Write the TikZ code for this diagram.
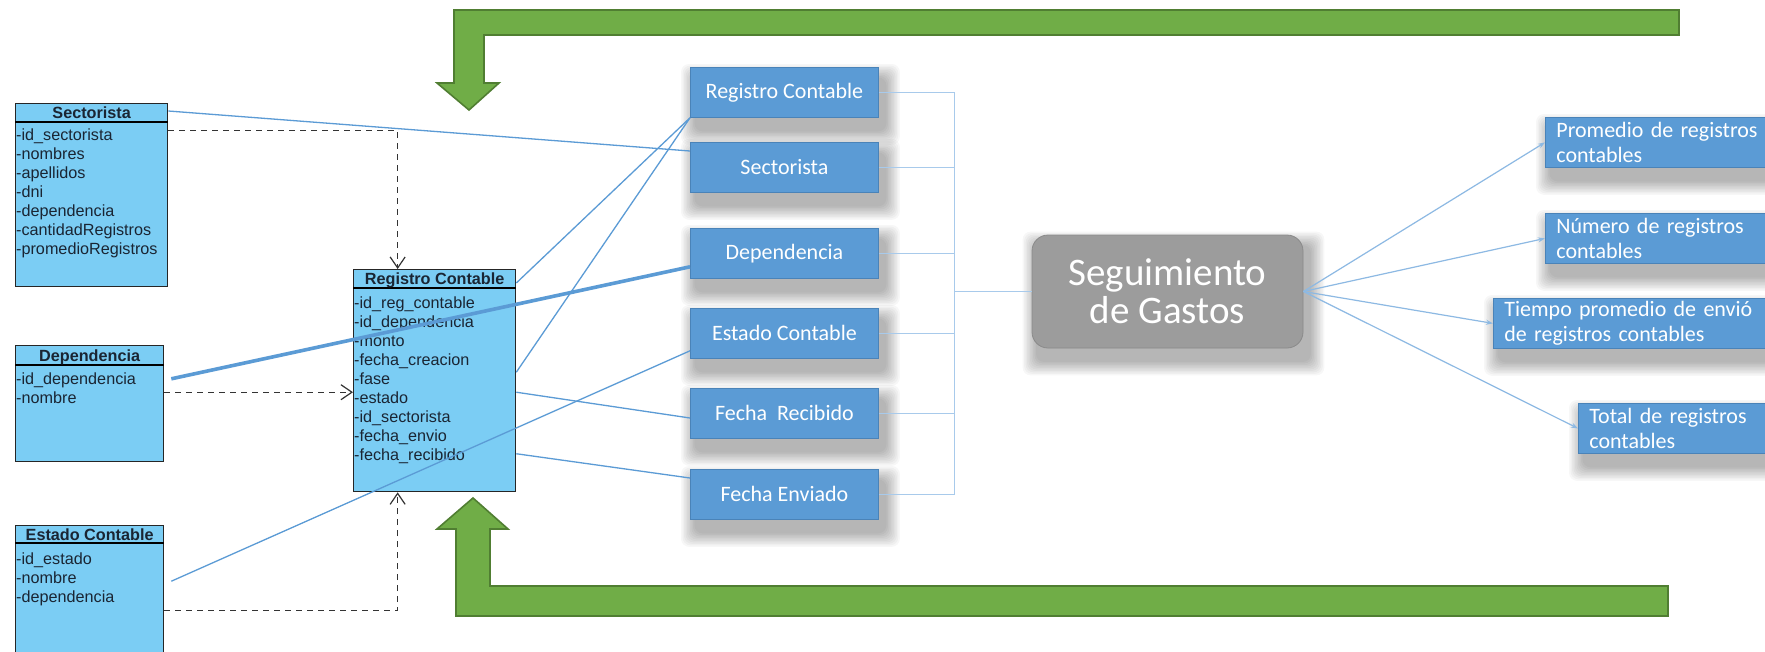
\documentclass[tikz,border=0pt]{standalone}
\usepackage{fontspec}
\setmainfont{Carlito}
\newfontfamily\arialf{Liberation Sans}
\usetikzlibrary{arrows.meta,calc}
\pgfdeclarelayer{bg}
\pgfsetlayers{bg,main}
\definecolor{umlblue}{HTML}{7BCDF4}
\definecolor{boxblue}{HTML}{5B9BD5}
\definecolor{boxedge}{HTML}{4A83B8}
\definecolor{linkblue}{HTML}{5B9BD5}
\definecolor{buslight}{HTML}{A8CAEB}
\definecolor{outblue}{HTML}{8DB9E3}
\definecolor{greenfill}{HTML}{70AD47}
\definecolor{greenedge}{HTML}{507E32}
\definecolor{seggray}{HTML}{9C9C9C}
\definecolor{segedge}{HTML}{8A8A8A}
\definecolor{txtdark}{HTML}{1A2533}
\begin{document}
\begin{tikzpicture}[x=1pt,y=-1pt,
  umlbox/.style={draw=black!85, line width=1.3pt, fill=umlblue, inner sep=0, anchor=north west},
  umlhead/.style={font=\arialf\bfseries\fontsize{16.2}{18}\selectfont, text=txtdark, inner sep=0, anchor=base},
  attr/.style={font=\arialf\fontsize{16.2}{18}\selectfont, text=txtdark, inner sep=0, anchor=base west},
  midbox/.style={fill=boxblue, draw=boxedge, line width=0.8pt, text=white,
    font=\fontsize{22}{25}\selectfont, minimum width=188pt, minimum height=50pt, anchor=north west, inner sep=0},
  rbox/.style={fill=boxblue, draw=boxedge, line width=0.8pt, text=white,
    font=\fontsize{22}{25}\selectfont, minimum height=50pt, anchor=north west, inner xsep=11pt, inner ysep=2pt, align=left},
  segbox/.style={fill=seggray, draw=segedge, line width=0.8pt, rounded corners=16pt, text=white,
    font=\fontsize{39}{38}\selectfont, minimum width=271pt, minimum height=113pt, align=center},
  shadowlayer/.style={fill=black, opacity=0.032, rounded corners=8pt},
  link/.style={draw=linkblue, line width=1.3pt},
  thicklink/.style={draw=linkblue, line width=3.6pt},
  depline/.style={draw=black!80, line width=1.2pt, dash pattern=on 6pt off 5pt, -{Straight Barb[length=11pt,width=15pt]}},
  busline/.style={draw=buslight, line width=1.4pt},
  outarrow/.style={draw=outblue, line width=1.2pt, -{Stealth[length=7pt,width=5pt]}},
  greenarrow/.style={fill=greenfill, draw=greenedge, line width=1.6pt, line join=miter}
]
\useasboundingbox (0,0) rectangle (1765,651);
\clip (0,0) rectangle (1765,651);

% middle boxes
\node[midbox] (rcb) at (690,67) {Registro Contable};
\node[midbox] (sb) at (690,142) {Sectorista};
\node[midbox] (db) at (690,228) {Dependencia};
\node[midbox] (ecb) at (690,308) {Estado Contable};
\node[midbox] (frb) at (690,388) {Fecha\ \ Recibido};
\node[midbox] (feb) at (690,469) {Fecha Enviado};

% central node
\node[segbox] (seg) at (1167.5,291.5) {Seguimiento\\de Gastos};

% right boxes
\node[rbox, text width=215pt] (pb) at (1545,117) {Promedio de registros\\contables};
\node[rbox, text width=215pt] (nb) at (1545,213) {Número de registros\\contables};
\node[rbox, text width=260pt] (tb) at (1493,298) {Tiempo promedio de envió\\de registros contables};
\node[rbox, text width=180pt] (ttb) at (1578,403) {Total de registros\\contables};

% background: white, green arrows, soft shadows
\begin{pgfonlayer}{bg}
\fill[white] (0,0) rectangle (1765,651);
\draw[greenarrow] (1679,10) -- (454,10) -- (454,83) -- (437,83) -- (469,110) -- (499,83) -- (484,83) -- (484,35) -- (1679,35) -- cycle;
\draw[greenarrow] (473,498) -- (508,529) -- (490,529) -- (490,586) -- (1668,586) -- (1668,616) -- (456,616) -- (456,529) -- (437,529) -- cycle;
\foreach \n in {rcb,sb,db,ecb,frb,feb,seg,pb,nb,tb,ttb}
  \foreach \k in {1,...,10}
    \fill[shadowlayer] ($(\n.north west)+(6-1.5*\k,12-1.5*\k)$) rectangle ($(\n.south east)+(6+1.5*\k,12+1.5*\k)$);
\end{pgfonlayer}

% UML classes
\node[umlbox, minimum width=152pt, minimum height=183pt] (us) at (15,103) {};
\draw[line width=1.2pt] ([yshift=-19pt]us.north west) -- ([yshift=-19pt]us.north east);
\node[umlhead] (us-h) at ($(us.north)+(0,15.5)$) {Sectorista};
\foreach \t [count=\i] in {-id\_sectorista,-nombres,-apellidos,-dni,-dependencia,-cantidadRegistros,-promedioRegistros}
  \node[attr] (us-a\i) at (16,121+19*\i) {\t};

\node[umlbox, minimum width=148pt, minimum height=116pt] (ud) at (15,345) {};
\draw[line width=1.2pt] ([yshift=-20pt]ud.north west) -- ([yshift=-20pt]ud.north east);
\node[umlhead] (ud-h) at ($(ud.north)+(0,16)$) {Dependencia};
\foreach \t [count=\i] in {-id\_dependencia,-nombre}
  \node[attr] (ud-a\i) at (16,365+19*\i) {\t};

\node[umlbox, minimum width=148pt, minimum height=140pt] (ue) at (15,525) {};
\draw[line width=1.2pt] ([yshift=-18pt]ue.north west) -- ([yshift=-18pt]ue.north east);
\node[umlhead] (ue-h) at ($(ue.north)+(0,15.5)$) {Estado Contable};
\foreach \t [count=\i] in {-id\_estado,-nombre,-dependencia}
  \node[attr] (ue-a\i) at (16,545+19*\i) {\t};

\node[umlbox, minimum width=162pt, minimum height=222pt] (rcu) at (353,269) {};
\draw[line width=1.2pt] ([yshift=-19pt]rcu.north west) -- ([yshift=-19pt]rcu.north east);
\node[umlhead] (rcu-h) at ($(rcu.north)+(0,15.5)$) {Registro Contable};
\foreach \t [count=\i] in {-id\_reg\_contable,-id\_dependencia,-monto,-fecha\_creacion,-fase,-estado,-id\_sectorista,-fecha\_envio,-fecha\_recibido}
  \node[attr] (rcu-a\i) at (354,289+19*\i) {\t};

% dependency (dashed) connectors
\draw[depline] ($(us.east |- us-a1)+(0,-5)$) -| ([xshift=-37pt]rcu.north);
\draw[depline] ($(ud.east |- ud-a2)+(0,-5)$) -- ($(rcu.west |- rcu-a6)+(0,-5)$);
\draw[depline] ($(ue.east |- ue-a3)+(0,13)$) -| ([xshift=-37pt]rcu.south);

% solid links
\draw[link] ([yshift=-8pt]us.north east) -- ([yshift=-9pt]sb.north west);
\draw[link] ([yshift=-14pt]rcu.north east) -- (rcb.south west);
\draw[link] ($(rcu.east |- rcu-a5)+(0,-6)$) -- (rcb.south west);
\draw[thicklink] ($(ud.east |- ud-a1)+(7,-1)$) -- ([yshift=12pt]db.south west);
\draw[link] ($(rcu.east |- rcu-a6)+(0,-5)$) -- ([yshift=-30pt]frb.north west);
\draw[link] ($(rcu.east |- rcu-a9)+(0,-2)$) -- ([yshift=-9pt]feb.north west);
\draw[link] ($(ue.east |- ue-a2)+(7,4)$) -- ([yshift=8pt]ecb.south west);

% bus to central node
\coordinate (bus) at ($(seg.west)+(-77,0)$);
\foreach \b in {rcb,sb,db,ecb,frb,feb}
  \draw[busline] (\b.east) -| (bus);
\draw[busline] (bus) -- (seg.west);

% outputs
\draw[outarrow] (seg.east) -- (pb.west);
\draw[outarrow] (seg.east) -- (nb.west);
\draw[outarrow] (seg.east) -- (tb.west);
\draw[outarrow] (seg.east) -- (ttb.west);
\end{tikzpicture}
\end{document}
